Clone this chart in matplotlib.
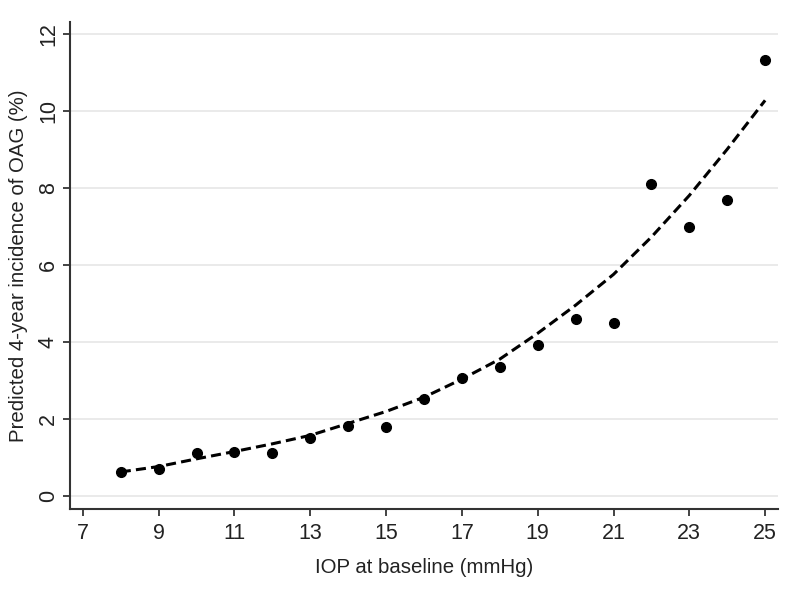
import numpy as np
import matplotlib.pyplot as plt

plt.rcParams['font.family'] = ['Liberation Sans', 'DejaVu Sans']

# IOP at baseline (mmHg)
iop = [8, 9, 10, 11, 12, 13, 14, 15, 16, 17, 18, 19, 20, 21, 22, 23, 24, 25]
# observed 4-year incidence (%)
observed = [0.62, 0.70, 1.10, 1.15, 1.11, 1.50, 1.80, 1.79, 2.52, 3.07,
            3.35, 3.92, 4.60, 4.50, 8.10, 6.98, 7.68, 11.32]
# predicted curve
predicted = [0.62, 0.76, 0.96, 1.15, 1.35, 1.57, 1.88, 2.19, 2.56, 3.03,
             3.55, 4.22, 4.95, 5.75, 6.72, 7.80, 9.00, 10.27]

xticks = [7, 9, 11, 13, 15, 17, 19, 21, 23, 25]
yticks = [0, 2, 4, 6, 8, 10, 12]

fig = plt.figure(figsize=(8, 5.89), dpi=100)
ax = fig.add_axes([0.0875, 0.136, 0.885, 0.827])

ax.plot(iop, predicted, color='black', lw=2.2, linestyle=(0, (3.3, 1.7)), zorder=2)
ax.plot(iop, observed, 'o', color='black', markersize=7, zorder=3)

ax.set_xlim(6.66, 25.34)
ax.set_ylim(-0.34, 12.31)
ax.set_xticks(xticks)
ax.set_yticks(yticks)
ax.set_yticklabels([str(t) for t in yticks], rotation=90, va='center')
ax.grid(axis='y', color='#e6e6e6', lw=1.2)
ax.set_axisbelow(True)

for s in ['top', 'right']:
    ax.spines[s].set_visible(False)
for s in ['left', 'bottom']:
    ax.spines[s].set_color('#333333')
    ax.spines[s].set_linewidth(1.5)
ax.tick_params(colors='#222222', labelsize=15.5, length=5, width=1.2, pad=5)
ax.tick_params(axis='y', pad=3)

ax.set_xlabel("IOP at baseline (mmHg)", fontsize=14.7, color='#222222', labelpad=10)
ax.set_ylabel("Predicted 4-year incidence of OAG (%)", fontsize=14.7, color='#222222', labelpad=7)

fig.savefig('out.png', dpi=100)
